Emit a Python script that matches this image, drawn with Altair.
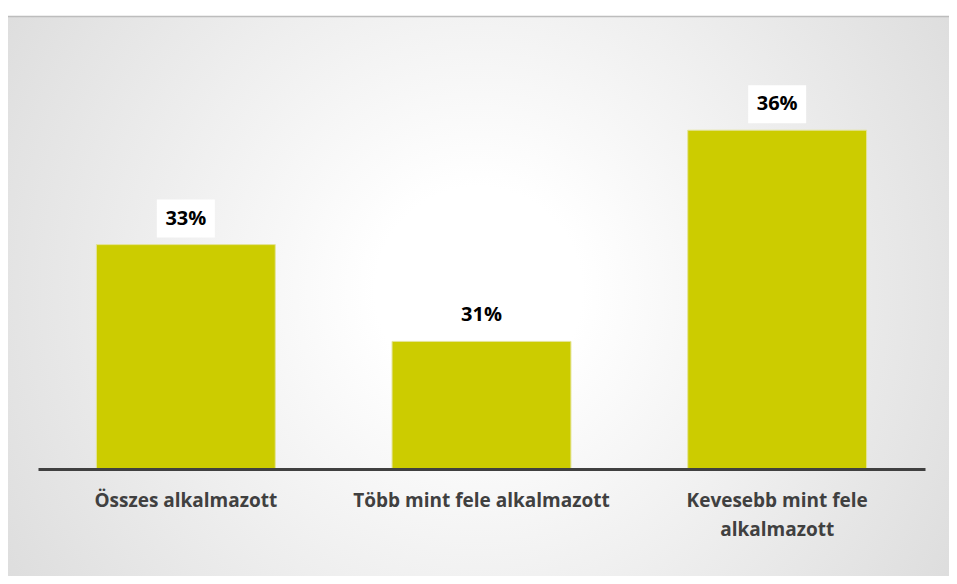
import altair as alt
import pandas as pd

categories = ["Összes alkalmazott", "Több mint fele alkalmazott", "Kevesebb mint fele alkalmazott"]
values = [33.1, 30.9, 35.7]
value_labels = ["33%", "31%", "36%"]
axis_min = 28

df = pd.DataFrame({"cat": categories, "val": values, "lbl": value_labels})

W, H = 887, 396
PL, PT, PR, PB = 30, 65, 24, 107
BG_H = 1880

xscale = alt.Scale(domain=categories, paddingInner=0.395, paddingOuter=0.1975)
yscale = alt.Scale(domain=[axis_min, 37], zero=False, nice=False)

one = pd.DataFrame({"a": [0]})

bg = alt.Chart(one).mark_rect(
    fill={
        "gradient": "radial",
        "x1": 0.5, "y1": 0.146, "r1": 0,
        "x2": 0.5, "y2": 0.146, "r2": 0.55,
        "stops": [
            {"offset": 0, "color": "#ffffff"},
            {"offset": 0.1, "color": "#ffffff"},
            {"offset": 1, "color": "#b9b9b9"},
        ],
    },
    strokeWidth=0,
).encode(
    x=alt.value(-PL),
    x2=alt.value(W + PR),
    y=alt.value(8 - PT),
    y2=alt.value(8 - PT + BG_H),
)

top_line = alt.Chart(one).mark_rule(color="#bdbdbd", strokeWidth=1.5).encode(
    x=alt.value(-PL),
    x2=alt.value(W + PR),
    y=alt.value(8 - PT + 0.5),
)

xaxis = alt.Axis(
    title=None,
    ticks=False,
    grid=False,
    domainColor="#404040",
    domainWidth=3,
    labelAngle=0,
    labelFont="Open Sans",
    labelFontWeight="bold",
    labelFontSize=19,
    labelColor="#404040",
    labelBaseline="alphabetic",
    labelPadding=37,
    labelLineHeight=29,
    labelLimit=400,
    zindex=1,
    labelExpr="datum.label == 'Kevesebb mint fele alkalmazott' ? ['Kevesebb mint fele', 'alkalmazott'] : datum.label",
)

base = alt.Chart(df)

bars = base.mark_bar(color="#cccc00", stroke="#e4e49a", strokeWidth=1).encode(
    x=alt.X("cat:N", scale=xscale, axis=xaxis, sort=categories),
    y=alt.Y("val:Q", scale=yscale, axis=None),
    y2=alt.datum(axis_min),
)

boxes = base.mark_point(
    shape="M-1,-0.655L1,-0.655L1,0.655L-1,0.655Z",
    size=58 * 58,
    filled=True,
    fill="#ffffff",
    opacity=1,
    strokeWidth=0,
    yOffset=-26,
).encode(
    x=alt.X("cat:N", scale=xscale, sort=categories),
    y=alt.Y("val:Q", scale=yscale),
)

texts = base.mark_text(
    font="Open Sans",
    fontWeight="bold",
    fontSize=20,
    color="#000000",
    baseline="middle",
    dy=-26,
).encode(
    x=alt.X("cat:N", scale=xscale, sort=categories),
    y=alt.Y("val:Q", scale=yscale),
    text="lbl:N",
)

chart = alt.layer(bg, top_line, bars, boxes, texts).properties(
    width=W,
    height=H,
    padding={"left": PL, "top": PT, "right": PR, "bottom": PB},
    autosize=alt.AutoSizeParams(type="none"),
).configure_view(stroke=None).configure(background="#ffffff")

chart.save("out.html", embed_options={"renderer": "svg", "actions": False})
